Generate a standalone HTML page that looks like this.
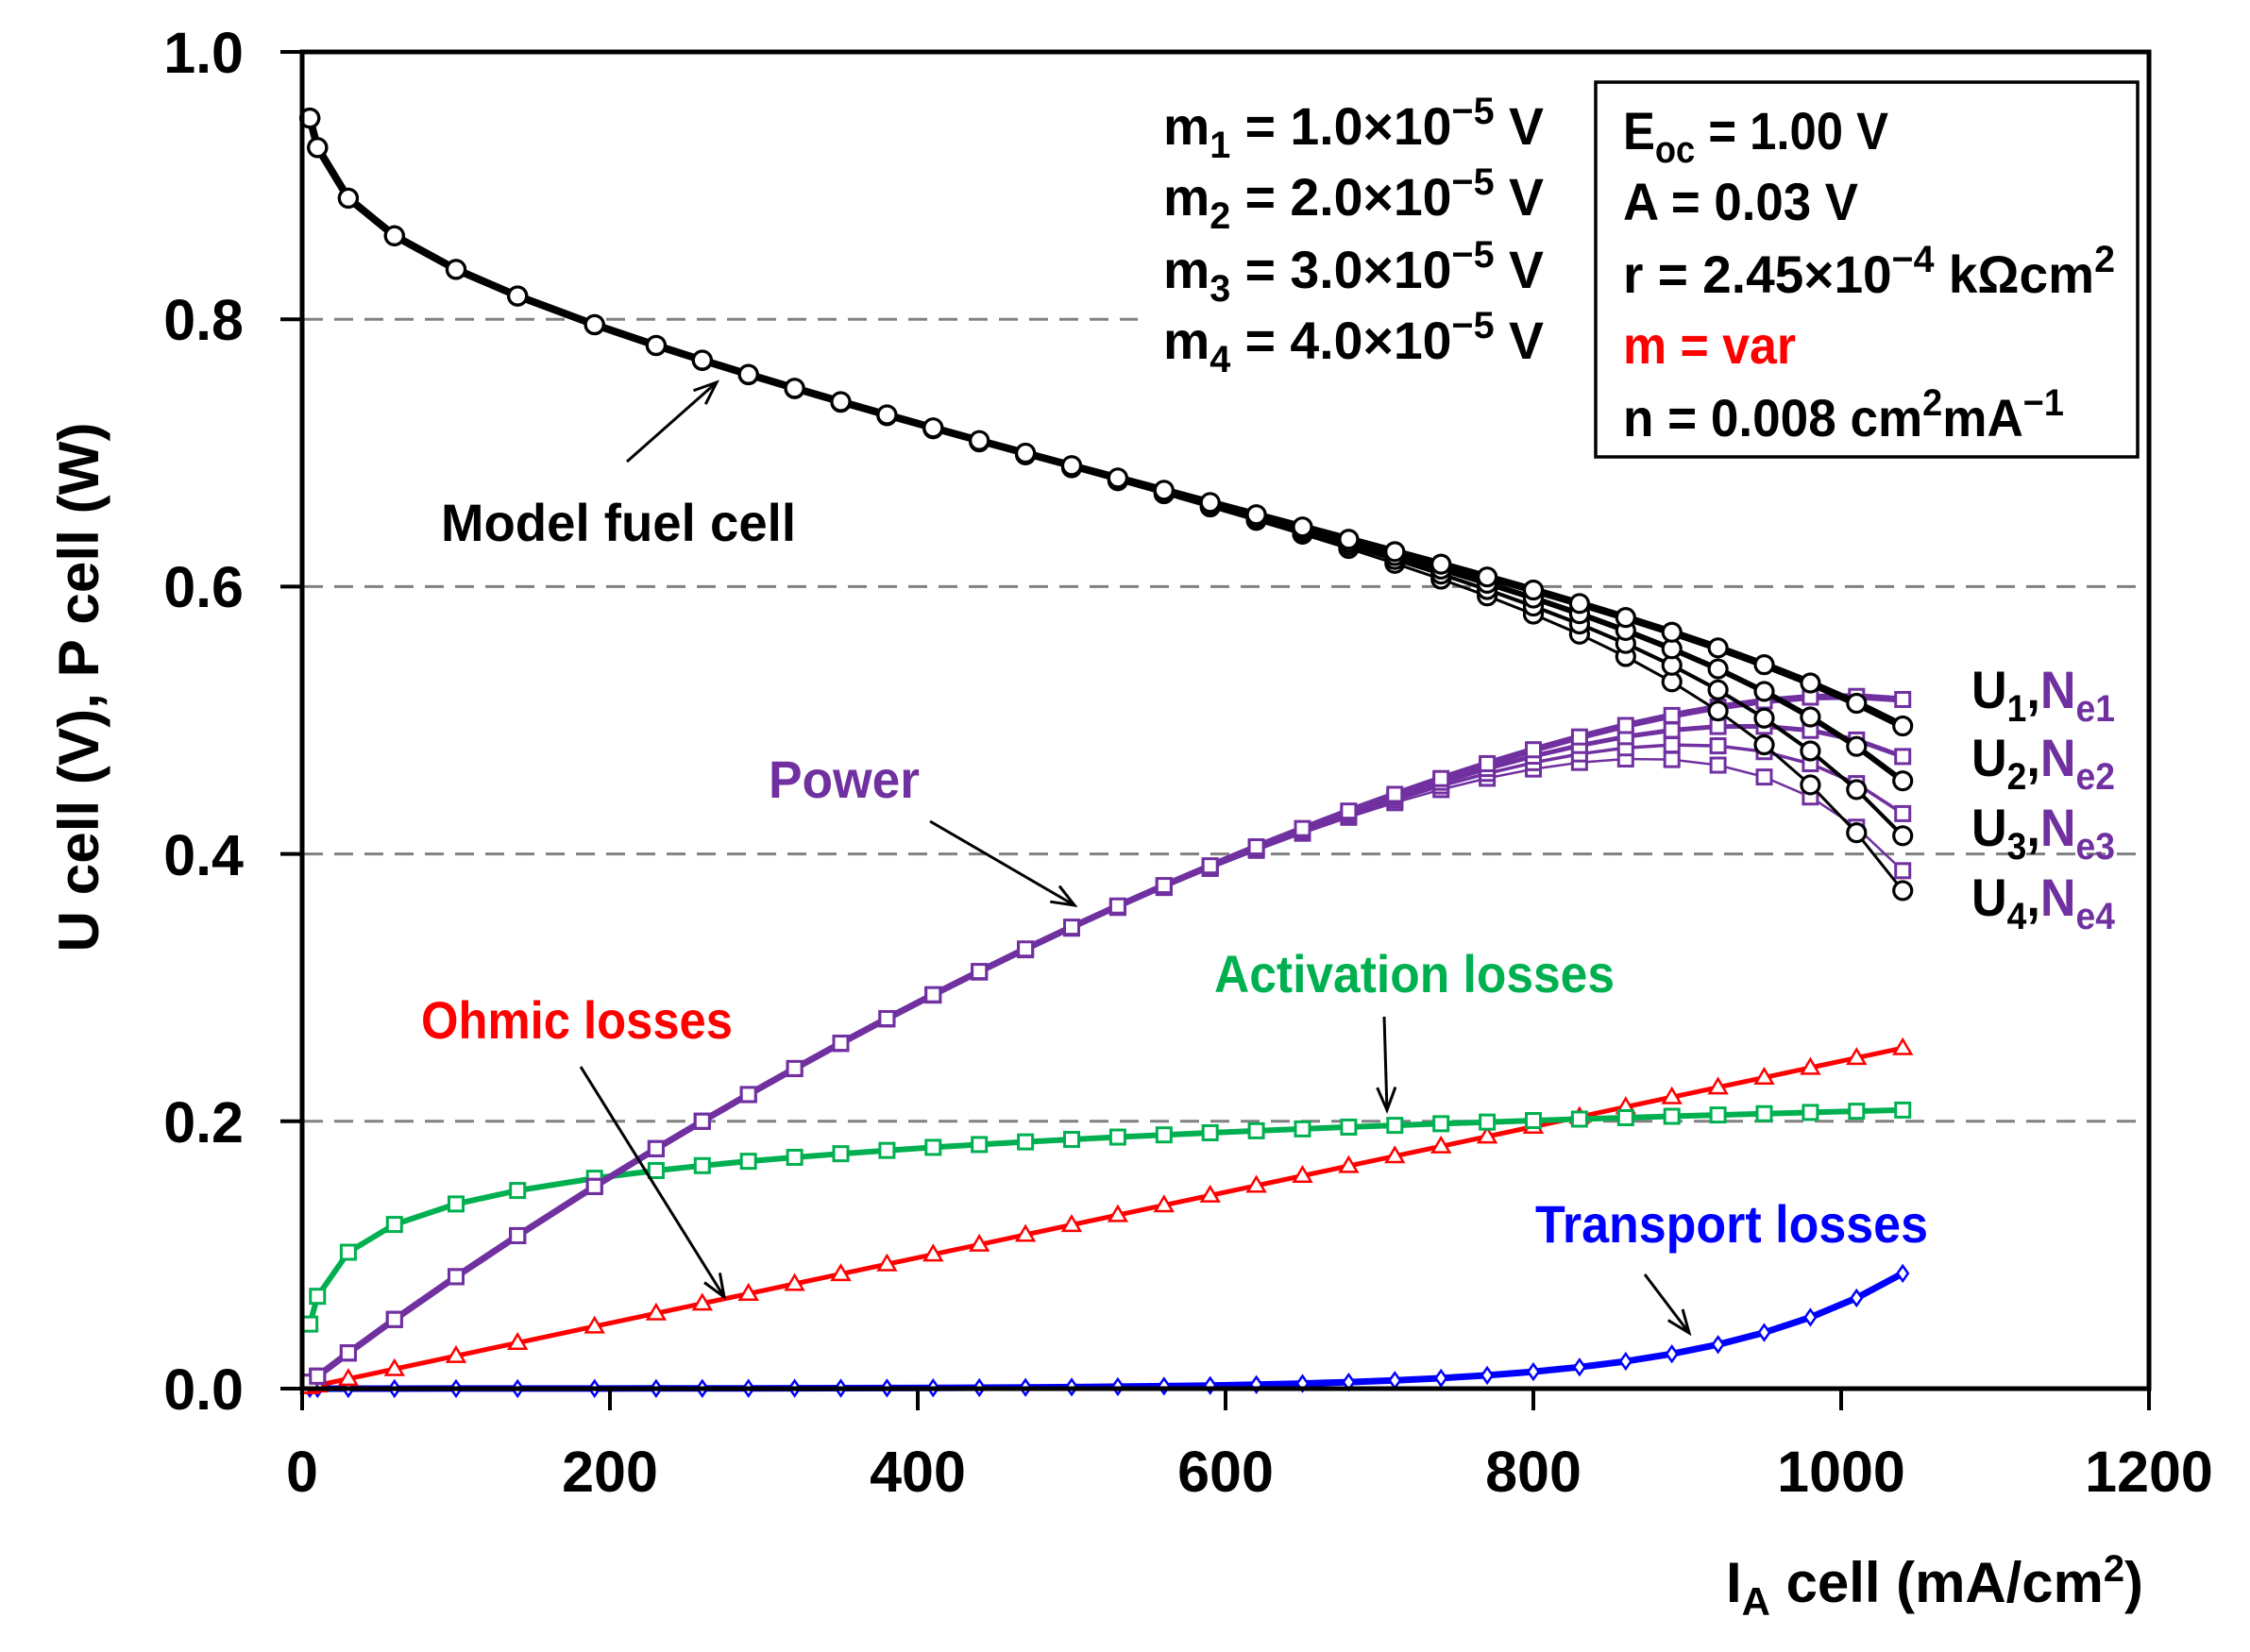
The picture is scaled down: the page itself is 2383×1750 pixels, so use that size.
<!DOCTYPE html>
<html><head><meta charset="utf-8">
<style>
html,body{margin:0;padding:0;background:#fff;}
svg{display:block;}
text{font-family:"Liberation Sans",sans-serif;font-weight:bold;}
</style></head>
<body>
<svg id="s" xmlns="http://www.w3.org/2000/svg" width="2383" height="1750" viewBox="0 0 2383 1750">
<rect width="2383" height="1750" fill="#fff"/>
<g id="grid" stroke="#808080" stroke-width="3" stroke-dasharray="20,12"></g>
<rect x="1205" y="80" width="485" height="330" fill="#fff"/>
<g id="plot"></g>
<rect x="320" y="55" width="1956" height="1416" fill="none" stroke="#000" stroke-width="5"/>
<g id="ticks" stroke="#000" stroke-width="4"></g>
<g font-size="61" text-anchor="end">
<text x="258" y="1493">0.0</text>
<text x="258" y="1210">0.2</text>
<text x="258" y="927">0.4</text>
<text x="258" y="643">0.6</text>
<text x="258" y="360">0.8</text>
<text x="258" y="77">1.0</text>
</g>
<g font-size="61" text-anchor="middle">
<text x="320" y="1580">0</text>
<text x="646" y="1580">200</text>
<text x="972" y="1580">400</text>
<text x="1298" y="1580">600</text>
<text x="1624" y="1580">800</text>
<text x="1950" y="1580">1000</text>
<text x="2276" y="1580">1200</text>
</g>
<text transform="translate(104,728) rotate(-90)" font-size="60" text-anchor="middle" textLength="561" lengthAdjust="spacingAndGlyphs">U cell (V), P cell (W)</text>
<text x="1828" y="1697" font-size="60" textLength="442" lengthAdjust="spacingAndGlyphs">I<tspan font-size="42" dy="14">A</tspan><tspan dy="-14"> cell (mA/cm</tspan><tspan font-size="40" dy="-22">2</tspan><tspan dy="22">)</tspan></text>

<g font-size="56">
<text x="1232" y="153" textLength="403" lengthAdjust="spacingAndGlyphs">m<tspan font-size="40" dy="14">1</tspan><tspan dy="-14"> = 1.0×10</tspan><tspan font-size="40" dy="-22">−5</tspan><tspan dy="22">  V</tspan></text>
<text x="1232" y="228" textLength="403" lengthAdjust="spacingAndGlyphs">m<tspan font-size="40" dy="14">2</tspan><tspan dy="-14"> = 2.0×10</tspan><tspan font-size="40" dy="-22">−5</tspan><tspan dy="22">  V</tspan></text>
<text x="1232" y="305" textLength="403" lengthAdjust="spacingAndGlyphs">m<tspan font-size="40" dy="14">3</tspan><tspan dy="-14"> = 3.0×10</tspan><tspan font-size="40" dy="-22">−5</tspan><tspan dy="22">  V</tspan></text>
<text x="1232" y="380" textLength="403" lengthAdjust="spacingAndGlyphs">m<tspan font-size="40" dy="14">4</tspan><tspan dy="-14"> = 4.0×10</tspan><tspan font-size="40" dy="-22">−5</tspan><tspan dy="22">  V</tspan></text>
</g>
<rect x="1690" y="87" width="574" height="397" fill="#fff" stroke="#000" stroke-width="3.5"/>
<g font-size="56">
<text x="1719" y="158" textLength="281" lengthAdjust="spacingAndGlyphs">E<tspan font-size="40" dy="14">oc</tspan><tspan dy="-14"> = 1.00 V</tspan></text>
<text x="1719" y="233" textLength="249" lengthAdjust="spacingAndGlyphs">A = 0.03 V</text>
<text x="1719" y="310" textLength="521" lengthAdjust="spacingAndGlyphs">r = 2.45×10<tspan font-size="40" dy="-22">−4</tspan><tspan dy="22">  kΩcm</tspan><tspan font-size="40" dy="-22">2</tspan></text>
<text x="1719" y="385" fill="#ff0000" textLength="183" lengthAdjust="spacingAndGlyphs">m = var</text>
<text x="1719" y="462" textLength="467" lengthAdjust="spacingAndGlyphs">n = 0.008 cm<tspan font-size="40" dy="-22">2</tspan><tspan dy="22">mA</tspan><tspan font-size="40" dy="-22">−1</tspan></text>
</g>
<g font-size="56">
<text x="2088" y="750" textLength="152" lengthAdjust="spacingAndGlyphs">U<tspan font-size="40" dy="14">1</tspan><tspan dy="-14">,</tspan><tspan fill="#7030a0">N</tspan><tspan fill="#7030a0" font-size="40" dy="14">e1</tspan></text>
<text x="2088" y="822" textLength="152" lengthAdjust="spacingAndGlyphs">U<tspan font-size="40" dy="14">2</tspan><tspan dy="-14">,</tspan><tspan fill="#7030a0">N</tspan><tspan fill="#7030a0" font-size="40" dy="14">e2</tspan></text>
<text x="2088" y="896" textLength="152" lengthAdjust="spacingAndGlyphs">U<tspan font-size="40" dy="14">3</tspan><tspan dy="-14">,</tspan><tspan fill="#7030a0">N</tspan><tspan fill="#7030a0" font-size="40" dy="14">e3</tspan></text>
<text x="2088" y="970" textLength="152" lengthAdjust="spacingAndGlyphs">U<tspan font-size="40" dy="14">4</tspan><tspan dy="-14">,</tspan><tspan fill="#7030a0">N</tspan><tspan fill="#7030a0" font-size="40" dy="14">e4</tspan></text>
</g>
<g font-size="56">
<text x="467" y="573" textLength="376" lengthAdjust="spacingAndGlyphs">Model fuel cell</text>
<text x="814" y="845" fill="#7030a0" textLength="160" lengthAdjust="spacingAndGlyphs">Power</text>
<text x="1286" y="1051" fill="#00b050" textLength="424" lengthAdjust="spacingAndGlyphs">Activation losses</text>
<text x="446" y="1100" fill="#ff0000" textLength="330" lengthAdjust="spacingAndGlyphs">Ohmic losses</text>
<text x="1626" y="1316" fill="#0000ff" textLength="416" lengthAdjust="spacingAndGlyphs">Transport losses</text>
</g>
<g id="arrows" stroke="#000" stroke-width="3" fill="none"></g>
</svg>
<script>
(function(){
var NS="http://www.w3.org/2000/svg";
function el(p,t,a){var e=document.createElementNS(NS,t);for(var k in a)e.setAttribute(k,a[k]);p.appendChild(e);return e;}
var X=function(i){return 320+i*1.63;}, Y=function(v){return 1471-v*1416;};
var grid=document.getElementById('grid');
[0.2,0.4,0.6,0.8].forEach(function(v){el(grid,'line',{x1:322,x2:2274,y1:Y(v),y2:Y(v)});});
var tk=document.getElementById('ticks');
for(var k=0;k<=5;k++){var y=Y(k*0.2);el(tk,'line',{x1:297,x2:320,y1:y,y2:y});}
for(var k=0;k<=6;k++){var x=320+k*326;el(tk,'line',{x1:x,x2:x,y1:1471,y2:1494});}
var I=[5,10,30,60,100,140,190];for(var i=230;i<=1040;i+=30)I.push(i);
var A=0.03,r=2.45e-4,n=0.008,ms=[1e-5,2e-5,3e-5,4e-5];
function U(i,m){return 1-A*Math.log(i)-r*i-m*Math.exp(n*i);}
var g=document.getElementById('plot');
function poly(pts,col,w){el(g,'polyline',{points:pts.map(function(p){return p[0].toFixed(1)+','+p[1].toFixed(1);}).join(' '),fill:'none',stroke:col,'stroke-width':w,'stroke-linejoin':'round'});}
function sq(p,col,s,sw){el(g,'rect',{x:p[0]-s/2,y:p[1]-s/2,width:s,height:s,fill:'#fff',stroke:col,'stroke-width':sw});}
function circ(p){el(g,'circle',{cx:p[0],cy:p[1],r:9.5,fill:'#fff',stroke:'#000','stroke-width':3.2});}
function tri(p,col){var s=9;el(g,'polygon',{points:(p[0])+','+(p[1]-s)+' '+(p[0]-s)+','+(p[1]+s*0.7)+' '+(p[0]+s)+','+(p[1]+s*0.7),fill:'#fff',stroke:col,'stroke-width':2.5});}
function dia(p,col){var s=8;el(g,'polygon',{points:p[0]+','+(p[1]-s)+' '+(p[0]+s*0.7)+','+p[1]+' '+p[0]+','+(p[1]+s)+' '+(p[0]-s*0.7)+','+p[1],fill:'#fff',stroke:col,'stroke-width':2.5});}
var wP=[7,5,3.5,2.5],wU=[8,6,4,3];
var tb=I.map(function(i){return [X(i),Y(2.1e-5*Math.exp(n*i))];});
poly(tb,'#0000ff',7);tb.forEach(function(p){dia(p,'#0000ff');});
var rd=I.map(function(i){return [X(i),Y(r*i)];});
poly(rd,'#ff0000',5);rd.forEach(function(p){tri(p,'#ff0000');});
var gr=I.map(function(i){return [X(i),Y(A*Math.log(i))];});
poly(gr,'#00b050',6);gr.forEach(function(p){sq(p,'#00b050',15,3);});
for(var j=3;j>=0;j--){var pp=I.map(function(i){return [X(i),Y(U(i,ms[j])*i/1000)];});poly(pp,'#7030a0',wP[j]);pp.forEach(function(p){sq(p,'#7030a0',15,3);});}
for(var j=3;j>=0;j--){var up=I.map(function(i){return [X(i),Y(U(i,ms[j]))];});poly(up,'#000',wU[j]);up.forEach(circ);}
var ar=document.getElementById('arrows');
function arrow(x1,y1,x2,y2){el(ar,'line',{x1:x1,y1:y1,x2:x2,y2:y2});var a=Math.atan2(y2-y1,x2-x1),L=26,h=0.38;
el(ar,'polyline',{points:(x2-L*Math.cos(a-h))+','+(y2-L*Math.sin(a-h))+' '+x2+','+y2+' '+(x2-L*Math.cos(a+h))+','+(y2-L*Math.sin(a+h))});}
arrow(664,489,759,405);arrow(985,870,1138,959);arrow(1466,1077,1469,1176);arrow(615,1130,767,1374);arrow(1742,1350,1789,1412);
})();
</script>
</body></html>
